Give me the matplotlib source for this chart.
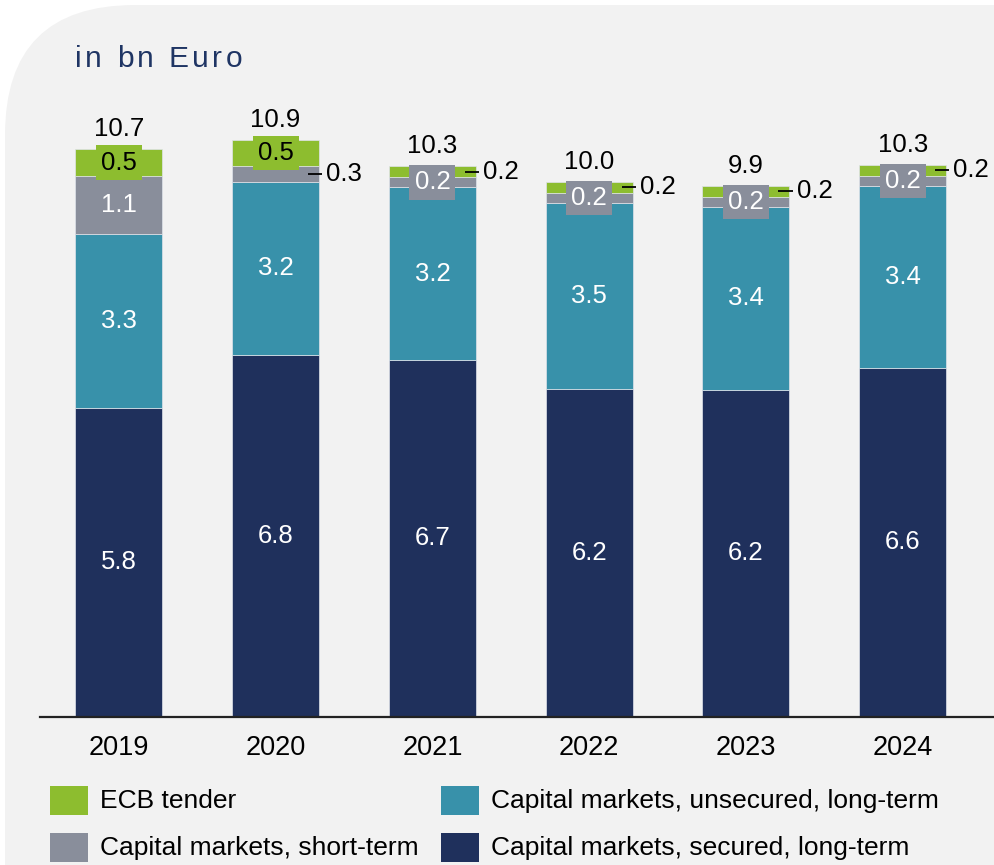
import matplotlib
matplotlib.use("Agg")
import matplotlib.pyplot as plt
from matplotlib.patches import FancyBboxPatch, Rectangle
from matplotlib.transforms import IdentityTransform

plt.rcParams['font.family'] = ['Liberation Sans', 'DejaVu Sans']

# ---- data ----
years = ['2019', '2020', '2021', '2022', '2023', '2024']
secured = [5.83, 6.83, 6.73, 6.18, 6.17, 6.58]
unsecured = [3.27, 3.25, 3.25, 3.50, 3.44, 3.42]
short_term = [1.10, 0.30, 0.19, 0.20, 0.19, 0.19]
ecb = [0.50, 0.50, 0.21, 0.20, 0.21, 0.22]
total_labels = ['10.7', '10.9', '10.3', '10.0', '9.9', '10.3']
series_names = ['ECB tender', 'Capital markets, unsecured, long-term',
                'Capital markets, short-term', 'Capital markets, secured, long-term']

# label placement styles
short_mode = ['inside', 'right', 'box', 'box', 'box', 'box']
ecb_mode = ['box', 'box', 'right', 'right', 'right', 'right']

C_GREEN = '#8dbd2f'
C_GRAY = '#898e9b'
C_TEAL = '#3891aa'
C_NAVY = '#1f305c'
C_BG = '#f2f2f2'

W, H = 994, 865
fig = plt.figure(figsize=(W / 100, H / 100), dpi=100)
fig.patch.set_facecolor('white')

# background rounded panel (pixel coords, bottom-up)
bg = FancyBboxPatch((5, -300), 1400, 300 + (H - 5),
                    boxstyle='round,pad=0,rounding_size=130',
                    transform=IdentityTransform(), facecolor=C_BG,
                    edgecolor='none', zorder=-5)
fig.patches.append(bg)

ax_bottom = 717
ax = fig.add_axes([40 / W, (H - ax_bottom) / H, 954 / W, 12 * 53.06 / H])
ax.set_zorder(2)
ax.set_facecolor('none')
ax.set_ylim(0, 12)
ax.set_xlim(-0.5026, 5.582)

x = list(range(len(years)))
bw = 0.555
ec = '#dfe3ea'
lw = 0.5
b0 = [0] * 6
b1 = secured
b2 = [a + b for a, b in zip(b1, unsecured)]
b3 = [a + b for a, b in zip(b2, short_term)]
tops = [a + b for a, b in zip(b3, ecb)]

ax.bar(x, secured, bw, bottom=b0, color=C_NAVY, edgecolor=ec, linewidth=lw, zorder=2)
ax.bar(x, unsecured, bw, bottom=b1, color=C_TEAL, edgecolor=ec, linewidth=lw, zorder=2)
ax.bar(x, short_term, bw, bottom=b2, color=C_GRAY, edgecolor=ec, linewidth=lw, zorder=2)
ax.bar(x, ecb, bw, bottom=b3, color=C_GREEN, edgecolor=ec, linewidth=lw, zorder=2)

FS = 18.5
for i in x:
    # secured & unsecured labels
    ax.text(i, secured[i] / 2, f'{secured[i]:.1f}', ha='center', va='center',
            color='white', fontsize=FS, zorder=5)
    ax.text(i, b1[i] + unsecured[i] / 2, f'{unsecured[i]:.1f}', ha='center',
            va='center', color='white', fontsize=FS, zorder=5)
    # short-term
    yc = b2[i] + short_term[i] / 2
    lab = f'{short_term[i]:.1f}'
    if short_mode[i] == 'inside':
        ax.text(i, yc, lab, ha='center', va='center', color='white', fontsize=FS, zorder=5)
    elif short_mode[i] == 'box':
        ax.text(i, yc, lab, ha='center', va='center', color='white', fontsize=FS, zorder=6,
                bbox=dict(boxstyle='square,pad=0.2', facecolor=C_GRAY, edgecolor='none'))
    else:
        ax.plot([i + bw / 2 - 0.07, i + bw / 2 + 0.02], [yc, yc], color='black',
                lw=1.3, zorder=6, solid_capstyle='butt')
        ax.text(i + bw / 2 + 0.045, yc, lab, ha='left', va='center', color='black',
                fontsize=FS, zorder=6)
    # ECB
    yc = b3[i] + ecb[i] / 2
    lab = f'{ecb[i]:.1f}'
    if ecb_mode[i] == 'box':
        ax.text(i, yc, lab, ha='center', va='center', color='black', fontsize=FS, zorder=6,
                bbox=dict(boxstyle='square,pad=0.2', facecolor=C_GREEN, edgecolor='none'))
    else:
        ax.plot([i + bw / 2 - 0.07, i + bw / 2 + 0.02], [yc, yc], color='black',
                lw=1.3, zorder=6, solid_capstyle='butt')
        ax.text(i + bw / 2 + 0.045, yc, lab, ha='left', va='center', color='black',
                fontsize=FS, zorder=6)
    # totals
    ax.annotate(total_labels[i], (i, tops[i]), xytext=(0, 13), textcoords='offset pixels',
                ha='center', va='baseline', fontsize=FS, color='black', zorder=6)

for s in ['top', 'right', 'left']:
    ax.spines[s].set_visible(False)
ax.spines['bottom'].set_linewidth(1.6)
ax.spines['bottom'].set_color('#222222')
ax.set_yticks([])
ax.set_xticks(x)
ax.set_xticklabels(years, fontsize=19.5)
ax.tick_params(axis='x', length=0, pad=13)

# title with letter spacing
renderer = fig.canvas.get_renderer()
title = 'in bn Euro'
tx = 75.0
tfs = 21.5
ty = (H - 67) / H
for ch in title:
    if ch == ' ':
        tx += 0.278 * tfs * 100 / 72 + 3.4
        continue
    t = fig.text(tx / W, ty, ch, fontsize=tfs, color='#1f3564', ha='left', va='baseline')
    w = t.get_window_extent(renderer).width
    tx += w + 3.4

# legend
leg_colors = [C_GREEN, C_TEAL, C_GRAY, C_NAVY]
leg_pos = [(50, 786), (441, 786), (50, 833), (441, 833)]
for name, col, (px, py) in zip(series_names, leg_colors, leg_pos):
    fig.patches.append(Rectangle((px / W, (H - py - 29) / H), 38 / W, 29 / H,
                                 transform=fig.transFigure, facecolor=col,
                                 edgecolor='none', zorder=3))
    fig.text((px + 50) / W, (H - py - 15) / H, name, fontsize=19, ha='left',
             va='center', color='black')

fig.savefig('out.png', dpi=100, facecolor=fig.get_facecolor())
